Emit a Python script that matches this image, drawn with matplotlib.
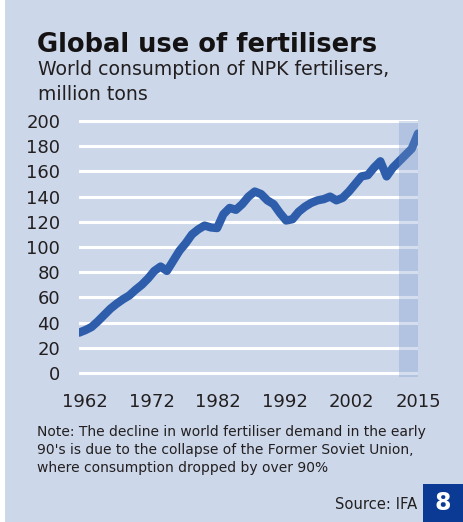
import matplotlib
matplotlib.use("Agg")
import matplotlib.pyplot as plt
import numpy as np
from matplotlib.patches import Rectangle

# World NPK fertiliser consumption, million tons
years = list(range(1961, 2016))
consumption = [
    32, 34, 36.5, 41, 46, 51, 55, 58.5, 61.5, 66,
    70, 75, 81, 84.5, 81, 89, 97, 103, 110, 114,
    117, 115.5, 115, 126, 131, 129.5, 134, 140, 144, 142,
    137, 134, 127, 121, 122, 128, 132, 135, 137, 138,
    140, 137, 139, 144, 150, 156, 157, 163, 168, 156,
    163, 168, 173, 178, 190,
]
forecast_start, forecast_end = 2012, 2015
y_ticks = list(range(0, 201, 20))
x_tick_labels = ["1962", "1972", "1982", "1992", "2002", "2015"]

title = "Global use of fertilisers"
subtitle_lines = ["World consumption of NPK fertilisers,", "million tons"]
note_lines = ["Note: The decline in world fertiliser demand in the early",
              "90's is due to the collapse of the Former Soviet Union,",
              "where consumption dropped by over 90%"]
source = "Source: IFA"
page_no = "8"

BG = "#ccd8ea"
LINE = "#2e5eab"
DARK = "#231f20"
BOX = "#0a3a94"
FONT = "DejaVu Sans"

W, H = 463, 522
fig = plt.figure(figsize=(W / 100, H / 100), dpi=100, facecolor="white")

# panel background
fig.patches.append(Rectangle((5 / W, 0), 1 - 5 / W, 1, transform=fig.transFigure,
                             facecolor=BG, edgecolor="none", zorder=-5))

# plot area
x0, x1 = 79, 418
ytop, ybot = 119.7, 376.8
ax = fig.add_axes([x0 / W, 1 - ybot / H, (x1 - x0) / W, (ybot - ytop) / H])
ax.set_facecolor("none")
ax.set_xlim(1961, 2015)
ax.set_ylim(-3, 201)
for s in ax.spines.values():
    s.set_visible(False)

for v in y_ticks:
    ax.axhline(v, color="white", lw=2.2, zorder=1)

ax.plot(years, consumption, color=LINE, lw=6.0, solid_joinstyle="round",
        solid_capstyle="round", zorder=2)

# forecast period shading drawn over the line
ax.fill_between([forecast_start, forecast_end], -3, 200, color="#7494cb",
                alpha=0.3, lw=0, zorder=3)

ax.set_yticks(y_ticks)
ax.set_yticklabels([str(v) for v in y_ticks], fontsize=13, color=DARK, family=FONT)
ax.tick_params(axis="y", length=0, pad=13.5)

first, last = int(x_tick_labels[0]), int(x_tick_labels[-1])
ax.set_xticks(np.linspace(first, last, len(x_tick_labels)))
ax.set_xticklabels(x_tick_labels, fontsize=13, color=DARK, family=FONT)
ax.tick_params(axis="x", length=0, pad=11.5)

# texts
fig.text(37 / W, 1 - 52 / H, title, fontsize=18.5, fontweight="heavy",
         family=FONT, color="#151213", va="baseline")
for i, line in enumerate(subtitle_lines):
    fig.text(38 / W, 1 - (75 + 25 * i) / H, line, fontsize=13.6,
             family=FONT, color=DARK, va="baseline")
for i, line in enumerate(note_lines):
    fig.text(37 / W, 1 - (436 + 18 * i) / H, line, fontsize=10.0,
             family=FONT, color=DARK, va="baseline")
fig.text(417 / W, 1 - 509 / H, source, fontsize=10.6, family=FONT,
         color=DARK, ha="right", va="baseline")

# page number badge
fig.patches.append(Rectangle((423 / W, 0), 40 / W, 38 / H, transform=fig.transFigure,
                             facecolor=BOX, edgecolor="none", zorder=2))
fig.text(443 / W, 19 / H, page_no, fontsize=17, fontweight="bold",
         family=FONT, color="white", ha="center", va="center")

fig.savefig("out.png", dpi=100, facecolor=fig.get_facecolor())
